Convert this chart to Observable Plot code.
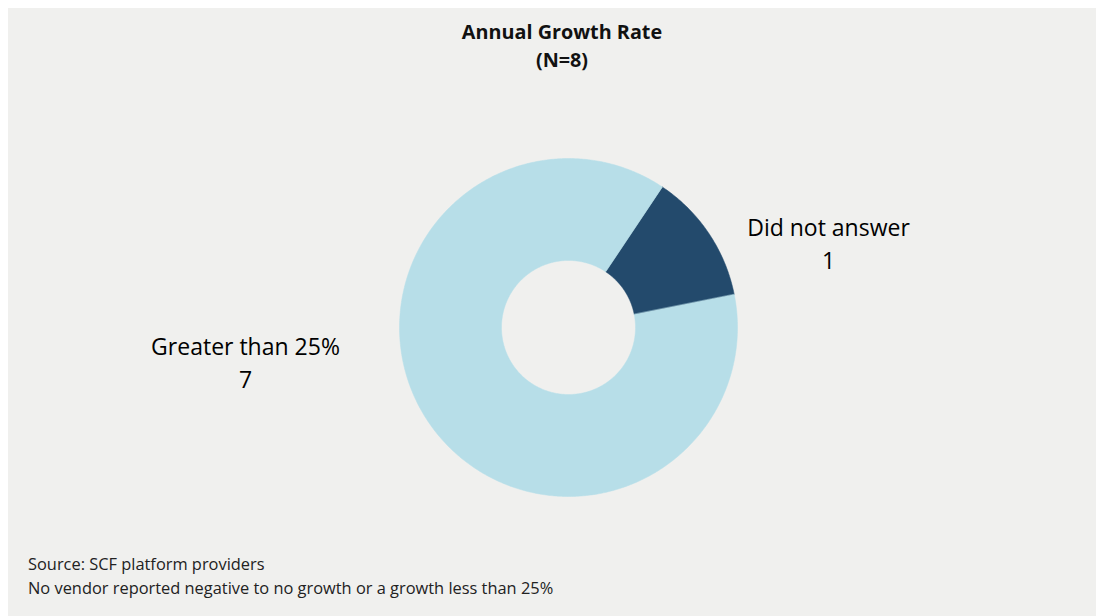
<!DOCTYPE html>
<html>
<head>
<meta charset="utf-8">
<script src="https://cdn.jsdelivr.net/npm/d3@7"></script>
<script src="https://cdn.jsdelivr.net/npm/@observablehq/plot@0.6"></script>
<style>
  html, body { margin: 0; padding: 0; background: #ffffff; width: 1096px; height: 616px; overflow: hidden; }
  #panel { position: absolute; left: 8px; top: 8px; width: 1088px; height: 608px; background: #f0f0ee; }
  #title { position: absolute; left: 0; top: 10px; width: 1108px; text-align: center; font-family: "Open Sans", Lato, sans-serif; font-weight: 700; font-size: 19.8px; line-height: 28px; color: #111; }
  #chart { position: absolute; left: 0; top: 0; }
  #note { position: absolute; left: 20px; top: 544px; font-family: "Open Sans", Lato, sans-serif; font-size: 16.4px; line-height: 24px; color: #222; }
</style>
</head>
<body>
<div id="panel">
  <div id="title">Annual Growth Rate<br>(N=8)</div>
  <div id="chart"></div>
  <div id="note">Source: SCF platform providers<br>No vendor reported negative to no growth or a growth less than 25%</div>
</div>
<script>
const categories = ["Did not answer", "Greater than 25%"];
const counts = [1, 7];
const valueLabels = ["1", "7"];
const colors = ["#234a6c", "#b7dee8"];

const W = 1088, H = 608;
const cx = 560, cy = 319, rOuter = 169, rInner = 67;
const startDeg = 33.75;

const total = d3.sum(counts);
const slices = [];
let acc = 0;
categories.forEach((c, i) => {
  const a0 = (startDeg + acc / total * 360) * Math.PI / 180;
  acc += counts[i];
  const a1 = (startDeg + acc / total * 360) * Math.PI / 180;
  slices.push({category: c, a0, a1});
});

// polygon points for each ring slice
const pts = [];
slices.forEach(s => {
  const n = Math.max(8, Math.ceil((s.a1 - s.a0) / 0.01));
  for (let k = 0; k <= n; k++) {
    const a = s.a0 + (s.a1 - s.a0) * k / n;
    pts.push({category: s.category, x: cx + rOuter * Math.sin(a), y: cy - rOuter * Math.cos(a)});
  }
  for (let k = n; k >= 0; k--) {
    const a = s.a0 + (s.a1 - s.a0) * k / n;
    pts.push({category: s.category, x: cx + rInner * Math.sin(a), y: cy - rInner * Math.cos(a)});
  }
});

const labelPos = {
  "Did not answer": [820, 233],
  "Greater than 25%": [237, 352]
};
const labels = categories.map((c, i) => ({
  category: c,
  text: c + "\n" + valueLabels[i],
  x: labelPos[c][0],
  y: labelPos[c][1]
}));

const plot = Plot.plot({
  width: W,
  height: H,
  margin: 0,
  style: {background: "transparent", overflow: "visible"},
  x: {domain: [0, W], range: [0, W], axis: null},
  y: {domain: [0, H], range: [0, H], axis: null},
  color: {domain: categories, range: colors},
  marks: [
    Plot.line(pts, {x: "x", y: "y", z: "category", fill: "category", stroke: "category", strokeWidth: 0.5, curve: "linear-closed"}),
    Plot.text(labels, {x: "x", y: "y", text: "text", fontSize: 23, lineHeight: 1.45, fill: "#000", fontFamily: "'Open Sans', 'Noto Sans', sans-serif", textAnchor: "middle"})
  ]
});
document.getElementById("chart").appendChild(plot);
</script>
</body>
</html>
